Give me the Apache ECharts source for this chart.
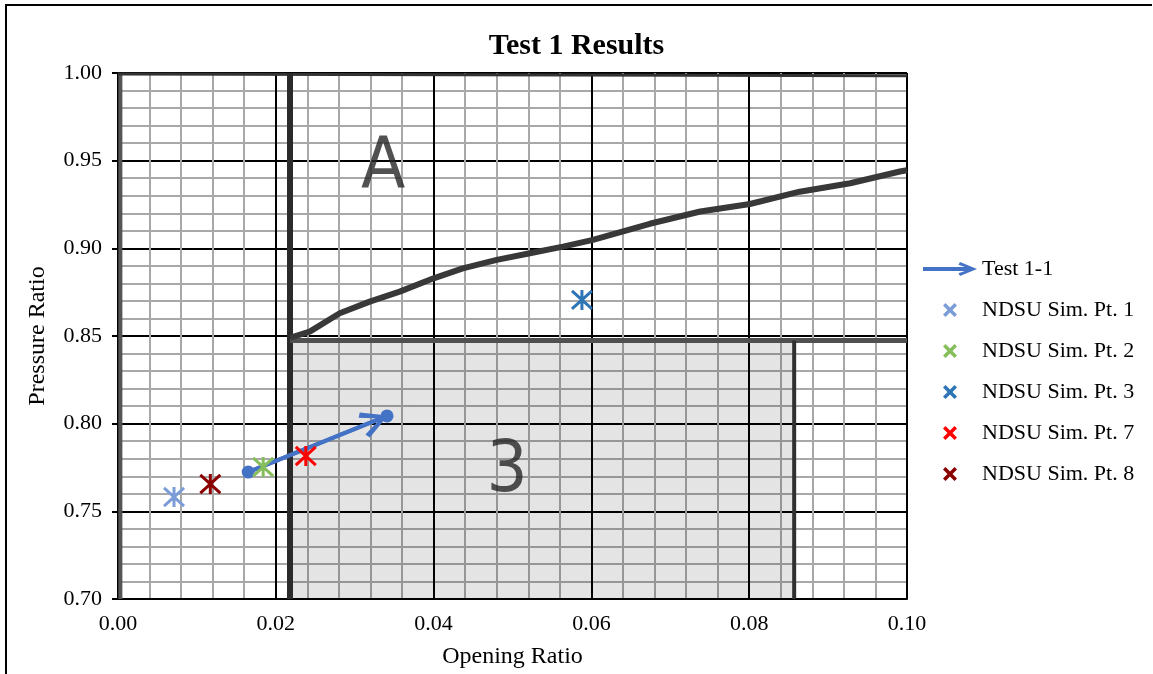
<!DOCTYPE html>
<html>
<head>
<meta charset="utf-8">
<script src="https://cdn.jsdelivr.net/npm/echarts@6/dist/echarts.min.js"></script>
<style>
  html, body { margin: 0; padding: 0; background: #fff; }
  #chart { width: 1153px; height: 674px; }
</style>
</head>
<body>
<div id="chart"></div>
<script>
// ---- Data ----
const xTicks = [0.00, 0.02, 0.04, 0.06, 0.08, 0.10];
const yTicks = [0.70, 0.75, 0.80, 0.85, 0.90, 0.95, 1.00];

const test11 = [[0.0165, 0.7724], [0.0341, 0.8044]];
const ndsuPt1 = [[0.0071, 0.7582]];
const ndsuPt2 = [[0.0184, 0.7753]];
const ndsuPt3 = [[0.0588, 0.8706]];
const ndsuPt7 = [[0.0238, 0.7816]];
const ndsuPt8 = [[0.0117, 0.7656]];

// background chart (scanned design chart) features
const regionAVertical = [[0.0218, 0.70], [0.0218, 1.00]];
const region3Top = [[0.0218, 0.8475], [0.10, 0.8475]];
const region3Right = [[0.0857, 0.8475], [0.0857, 0.70]];
const boundaryCurve = [
  [0.0218, 0.8490], [0.0243, 0.8525], [0.0281, 0.8630], [0.0319, 0.8696],
  [0.0357, 0.8753], [0.0400, 0.8829], [0.0437, 0.8886], [0.0480, 0.8934],
  [0.0522, 0.8972], [0.0564, 0.9010], [0.0602, 0.9048], [0.0674, 0.9140],
  [0.0738, 0.9210], [0.0801, 0.9253], [0.0864, 0.9323], [0.0928, 0.9371],
  [0.0991, 0.9438], [0.1000, 0.9445]
];
const scanLeftEdge = [[0.0003, 0.70], [0.0003, 1.00]];
const scanTopEdge = [[0.0, 0.9995], [0.10, 0.9985]];
const regionLabels = [
  { name: 'A', value: [0.0336, 0.9459] },
  { name: '3', value: [0.0493, 0.7724] }
];

const seriesNames = ['Test 1-1', 'NDSU Sim. Pt. 1', 'NDSU Sim. Pt. 2', 'NDSU Sim. Pt. 3', 'NDSU Sim. Pt. 7', 'NDSU Sim. Pt. 8'];
const seriesColors = ['#4472C4', '#7C9CD8', '#86BE5C', '#2E75B6', '#FF0000', '#8B0000'];

// ---- Symbols ----
const starPath = 'path://M0,0 L20,20 M20,0 L0,20 M10,-1 L10,21';
const legendXPath = 'path://M0,2.5 L2.5,0 L7,4.5 L11.5,0 L14,2.5 L9.5,7 L14,11.5 L11.5,14 L7,9.5 L2.5,14 L0,11.5 L4.5,7 Z';
const legendArrowPath = 'path://M0,5 L48,5 L48,9 L0,9 Z M37,0 L54,7 L37,14 L35.5,11.3 L47.5,7 L35.5,2.7 Z';
const arrowHeadPath = 'path://M13,0 L13.2,0 L13,0.2 Z M13,26 L26.5,51 L22,54 L13,34 L4,54 L-0.5,51 Z';

const serif = "'Liberation Serif', 'Times New Roman', serif";

function scatterSeries(name, data, color) {
  return {
    name: name, type: 'scatter', data: data, z: 10,
    symbol: starPath, symbolSize: 20,
    itemStyle: { color: 'rgba(0,0,0,0)', borderColor: color, borderWidth: 3, opacity: 1 },
    emphasis: { disabled: true }
  };
}
function bgLine(name, data, color, width) {
  return {
    name: name, type: 'line', data: data, symbol: 'none', silent: true, z: 3,
    lineStyle: { color: color, width: width }, emphasis: { disabled: true }
  };
}
function legendItem(i) {
  return {
    name: seriesNames[i],
    icon: i === 0 ? legendArrowPath : legendXPath,
    itemStyle: { color: seriesColors[i], borderWidth: 0, opacity: 1 }
  };
}

const chart = echarts.init(document.getElementById('chart'), null, { renderer: 'canvas' });
chart.setOption({
  backgroundColor: '#fff',
  animation: false,
  title: {
    text: 'Test 1 Results', left: 'center', top: 26,
    textStyle: { fontFamily: serif, fontWeight: 'bold', fontSize: 30, color: '#000' }
  },
  legend: {
    orient: 'vertical', left: 918, top: 253,
    itemWidth: 54, itemHeight: 14, itemGap: 19,
    textStyle: { fontFamily: serif, fontSize: 22, color: '#000' },
    data: seriesNames.map((n, i) => legendItem(i)),
    selectedMode: false
  },
  grid: { left: 118, right: 246, top: 73, bottom: 75, containLabel: false },
  xAxis: {
    type: 'value', min: xTicks[0], max: xTicks[xTicks.length - 1], interval: 0.02,
    name: 'Opening Ratio', nameLocation: 'middle', nameGap: 46,
    nameTextStyle: { fontFamily: serif, fontSize: 24, color: '#000' },
    axisLine: { show: true, lineStyle: { color: '#000', width: 2 } },
    axisTick: { show: false },
    axisLabel: { formatter: v => v.toFixed(2), fontFamily: serif, fontSize: 22, color: '#000', margin: 14 },
    splitLine: { show: true, lineStyle: { color: '#000', width: 2 } },
    minorTick: { show: false, splitNumber: 5 },
    minorSplitLine: { show: true, lineStyle: { color: '#a8a8a8', width: 2 } }
  },
  yAxis: {
    type: 'value', min: yTicks[0], max: yTicks[yTicks.length - 1], interval: 0.05,
    name: 'Pressure Ratio', nameLocation: 'middle', nameGap: 68,
    nameTextStyle: { fontFamily: serif, fontSize: 24, color: '#000' },
    axisLine: { show: false },
    axisTick: { show: true, length: 6, lineStyle: { color: '#000', width: 2 } },
    axisLabel: { formatter: v => v.toFixed(2), fontFamily: serif, fontSize: 22, color: '#000', margin: 16 },
    splitLine: { show: true, lineStyle: { color: '#000', width: 2 } },
    minorTick: { show: false, splitNumber: 5 },
    minorSplitLine: { show: true, lineStyle: { color: '#a8a8a8', width: 2 } }
  },
  series: [
    {
      name: 'shade', type: 'line', data: [region3Top[0], region3Right[0]],
      symbol: 'none', silent: true, z: 1,
      lineStyle: { width: 0 },
      areaStyle: { color: 'rgba(0,0,0,0.15)', origin: 'start' }
    },
    bgLine('scanLeft', scanLeftEdge, '#555', 4),
    bgLine('scanTop', scanTopEdge, '#333', 3),
    bgLine('regionAVertical', regionAVertical, '#2b2b2b', 6),
    bgLine('region3Top', region3Top, '#505050', 5),
    bgLine('region3Right', region3Right, '#303030', 4),
    bgLine('boundaryCurve', boundaryCurve, '#383838', 6),
    {
      name: 'regionLabels', type: 'scatter', data: regionLabels, symbolSize: 0, silent: true, z: 4,
      label: {
        show: true, position: 'inside', formatter: p => p.name,
        fontFamily: "'Liberation Sans Narrow', 'DejaVu Sans Condensed', 'Liberation Sans', sans-serif",
        fontSize: 72, color: '#262626'
      }
    },
    {
      name: seriesNames[0], type: 'line', data: test11, z: 9,
      symbol: 'circle', symbolSize: 13,
      itemStyle: { color: seriesColors[0] },
      lineStyle: { color: seriesColors[0], width: 4 },
      emphasis: { disabled: true },
      markLine: {
        silent: true, symbol: ['none', arrowHeadPath], symbolSize: [27, 54],
        lineStyle: { color: seriesColors[0], width: 4, type: 'solid' },
        label: { show: false },
        data: [[{ coord: test11[0] }, { coord: test11[1] }]]
      }
    },
    scatterSeries(seriesNames[1], ndsuPt1, seriesColors[1]),
    scatterSeries(seriesNames[2], ndsuPt2, seriesColors[2]),
    scatterSeries(seriesNames[3], ndsuPt3, seriesColors[3]),
    scatterSeries(seriesNames[4], ndsuPt7, seriesColors[4]),
    scatterSeries(seriesNames[5], ndsuPt8, seriesColors[5])
  ],
  graphic: [
    { type: 'line', shape: { x1: 6, y1: 5, x2: 6, y2: 674 }, style: { stroke: '#000', lineWidth: 2 }, silent: true },
    { type: 'line', shape: { x1: 5, y1: 5, x2: 1152, y2: 5 }, style: { stroke: '#000', lineWidth: 2 }, silent: true }
  ]
});
</script>
</body>
</html>
